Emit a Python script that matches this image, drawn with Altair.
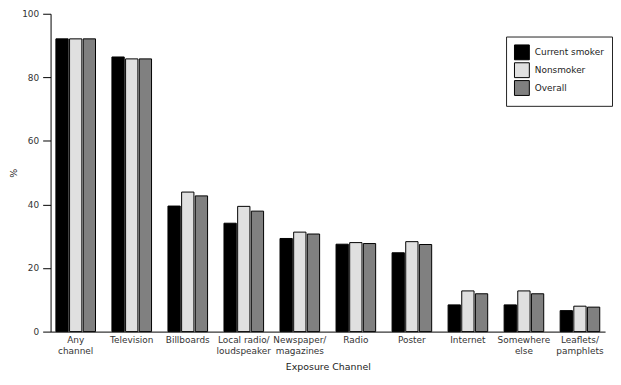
import altair as alt
import pandas as pd

categories = ["Any|channel", "Television", "Billboards", "Local radio/|loudspeaker",
              "Newspaper/|magazines", "Radio", "Poster", "Internet",
              "Somewhere|else", "Leaflets/|pamphlets"]
groups = ["Current smoker", "Nonsmoker", "Overall"]
smoker = [92.1, 86.4, 39.5, 34.1, 29.3, 27.5, 24.8, 8.4, 8.4, 6.6]
nonsmoker = [92.1, 85.8, 43.9, 39.4, 31.3, 28.0, 28.3, 12.8, 12.8, 8.0]
overall = [92.1, 85.8, 42.7, 37.9, 30.7, 27.7, 27.4, 11.9, 11.9, 7.7]
colors = ["#000000", "#e0e0e0", "#808080"]
y_ticks = [0, 20, 40, 60, 80, 100]

rows = []
for g, vals in zip(groups, [smoker, nonsmoker, overall]):
    for c, v in zip(categories, vals):
        rows.append({"channel": c, "group": g, "value": v})
df = pd.DataFrame(rows)

FONT = "DejaVu Sans"

chart = alt.Chart(df).mark_bar(stroke="black", strokeWidth=1).encode(
    x=alt.X("channel:N", sort=categories,
            scale=alt.Scale(paddingInner=0.293, paddingOuter=0.095),
            axis=alt.Axis(title="Exposure Channel", labelAngle=0, ticks=False,
                          labelExpr="split(datum.label, '|')",
                          labelPadding=4, labelLineHeight=11,
                          titlePadding=6, domainColor="black")),
    xOffset=alt.XOffset("group:N", sort=groups, scale=alt.Scale(paddingInner=0.1)),
    y=alt.Y("value:Q", scale=alt.Scale(domain=[0, 100], nice=False),
            axis=alt.Axis(title="%", values=y_ticks, grid=False, tickSize=8,
                          labelPadding=4, titlePadding=3,
                          domainColor="black", tickColor="black")),
    fill=alt.Fill("group:N", sort=groups,
                  scale=alt.Scale(domain=groups, range=colors),
                  legend=alt.Legend(title=None, orient="none", legendX=460, legendY=23,
                                    symbolType="square", symbolSize=225,
                                    symbolStrokeColor="black", symbolStrokeWidth=1,
                                    rowPadding=-2, labelOffset=5,
                                    strokeColor="#222", padding=8,
                                    labelFontSize=9, labelFont=FONT,
                                    labelColor="#222")),
).properties(width=560, height=321,
             padding={"left": 0, "top": 0, "right": 0, "bottom": 0}
).configure_view(stroke=None).configure_axis(
    labelFont=FONT, titleFont=FONT, labelFontSize=9, titleFontSize=9.5,
    labelColor="#333", titleColor="#222", titleFontWeight="normal"
)

chart.save("out.html", embed_options={"renderer": "svg", "actions": False})
